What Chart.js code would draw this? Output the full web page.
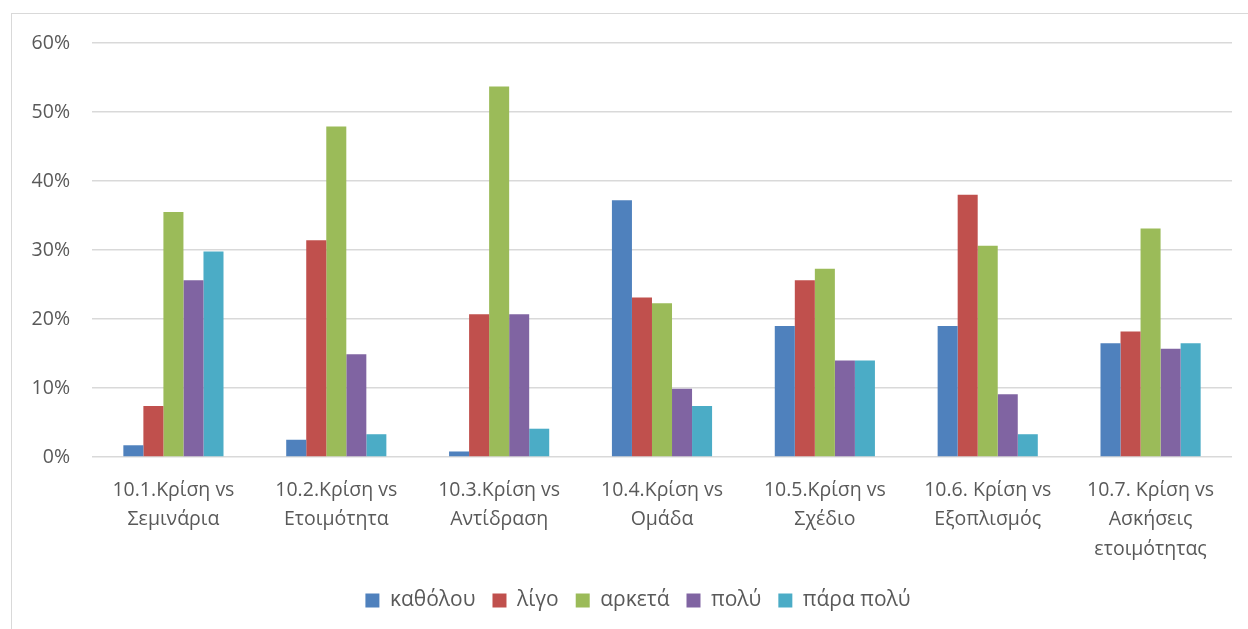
<!DOCTYPE html>
<html>
<head>
<meta charset="utf-8">
<script src="https://cdn.jsdelivr.net/npm/chart.js@4/dist/chart.umd.min.js"></script>
<style>
html,body{margin:0;padding:0;background:#fff;}
#wrap{position:relative;width:1248px;height:629px;overflow:hidden;}
#frame{position:absolute;left:11px;top:13px;width:1300px;height:700px;border:1.5px solid #d9d9d9;box-sizing:border-box;}
canvas{position:absolute;left:0;top:0;}
</style>
</head>
<body>
<div id="wrap">
<div id="frame"></div>
<canvas id="c" width="1248" height="629"></canvas>
</div>
<script>
const categories = [
  ["10.1.Κρίση vs","Σεμινάρια"],
  ["10.2.Κρίση vs","Ετοιμότητα"],
  ["10.3.Κρίση vs","Αντίδραση"],
  ["10.4.Κρίση vs","Ομάδα"],
  ["10.5.Κρίση vs","Σχέδιο"],
  ["10.6. Κρίση vs","Εξοπλισμός"],
  ["10.7. Κρίση vs","Ασκήσεις","ετοιμότητας"]
];
const seriesNames = ["καθόλου","λίγο","αρκετά","πολύ","πάρα πολύ"];
const katholou  = [1.7, 2.5, 0.8, 37.2, 19.0, 19.0, 16.5];
const ligo      = [7.4, 31.4, 20.7, 23.1, 25.6, 38.0, 18.2];
const arketa    = [35.5, 47.9, 53.7, 22.3, 27.3, 30.6, 33.1];
const poly      = [25.6, 14.9, 20.7, 9.9, 14.0, 9.1, 15.7];
const paraPoly  = [29.8, 3.3, 4.1, 7.4, 14.0, 3.3, 16.5];
const yTicks = [0, 10, 20, 30, 40, 50, 60];
const colors = ["#4f81bd","#c0504d","#9bbb59","#8064a2","#4bacc6"];

const values = [katholou, ligo, arketa, poly, paraPoly];
const FONT = "'Open Sans', 'Noto Sans', sans-serif";

// shift the legend so it is centred on the chart frame rather than the canvas
const legendShift = {
  id: 'legendShift',
  afterLayout(chart) {
    const lg = chart.legend;
    if (lg) { lg.left += 22; lg.right += 22; }
  }
};

new Chart(document.getElementById('c'), {
  type: 'bar',
  data: {
    labels: categories,
    datasets: seriesNames.map((n, i) => ({
      label: n,
      data: values[i],
      backgroundColor: colors[i],
      borderWidth: 0,
      categoryPercentage: 0.615,
      barPercentage: 1.0
    }))
  },
  plugins: [legendShift],
  options: {
    responsive: false,
    animation: false,
    devicePixelRatio: 1,
    layout: { padding: { left: 0, right: 16, top: 43, bottom: 8 } },
    plugins: {
      tooltip: { enabled: false },
      legend: {
        position: 'bottom',
        labels: {
          boxWidth: 14, boxHeight: 14,
          padding: 17,
          color: '#595959',
          font: { family: FONT, size: 21 }
        }
      }
    },
    scales: {
      x: {
        grid: { display: false, drawTicks: false },
        border: { display: false },
        ticks: {
          color: '#595959',
          font: { family: FONT, size: 19.5, lineHeight: 1.5 },
          padding: 19,
          maxRotation: 0, autoSkip: false
        },
        afterFit: s => { s.height = 116; }
      },
      y: {
        min: 0, max: 60,
        afterBuildTicks: s => { s.ticks = yTicks.map(v => ({ value: v })); },
        grid: { color: '#d9d9d9', lineWidth: 1.5, drawTicks: false },
        border: { display: false },
        ticks: {
          color: '#595959',
          font: { family: FONT, size: 19.5 },
          padding: 22,
          callback: v => v + '%'
        },
        afterFit: s => { s.width = 92; }
      }
    }
  }
});
</script>
</body>
</html>
